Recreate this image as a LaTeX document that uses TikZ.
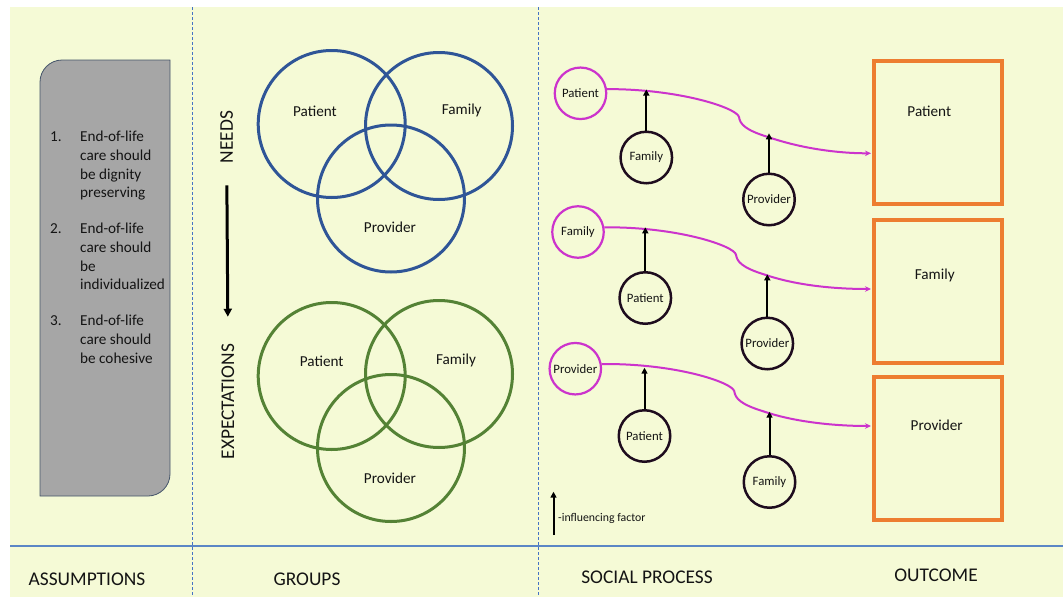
\documentclass[tikz,border=0pt]{standalone}
\usepackage{fontspec}
\setmainfont{Carlito}
\usetikzlibrary{arrows.meta,calc}

\definecolor{bgyellow}{RGB}{245,250,214}
\definecolor{divblue}{RGB}{68,114,196}
\definecolor{ruleblue}{RGB}{91,134,197}
\definecolor{boxgray}{RGB}{166,166,166}
\definecolor{boxedge}{RGB}{68,84,106}
\definecolor{needblue}{RGB}{47,85,151}
\definecolor{expgreen}{RGB}{84,130,53}
\definecolor{procmag}{RGB}{204,51,204}
\definecolor{inkdark}{RGB}{30,12,30}
\definecolor{outorange}{RGB}{237,125,49}
\definecolor{txt}{RGB}{20,20,20}

\begin{document}
\begin{tikzpicture}[x=1pt,y=-1pt,
  every node/.style={text=txt},
  divider/.style={draw=divblue, line width=0.9pt, dash pattern=on 3pt off 2pt},
  column/.style={font=\fontsize{19.4}{22}\selectfont, inner sep=0},
  venn/.style={circle, minimum size=147pt, inner sep=0, line width=3pt},
  vlabel/.style={font=\fontsize{15.2}{17}\selectfont, inner sep=0},
  actor/.style={circle, draw=procmag, line width=2.2pt, minimum size=51.5pt,
    inner sep=0, font=\fontsize{12.8}{15}\selectfont},
  factor/.style={circle, draw=inkdark, line width=2.5pt, minimum size=51.5pt,
    inner sep=0, font=\fontsize{12.8}{15}\selectfont},
  flow/.style={draw=procmag, line width=2pt, -{Stealth[length=6pt,width=5.5pt]}},
  infl/.style={draw=black, line width=2pt, -{Triangle[length=6pt,width=6pt]}},
  outbox/.style={rectangle, draw=outorange, line width=4pt, minimum width=128pt,
    minimum height=143pt, inner sep=0},
  olabel/.style={font=\fontsize{15.2}{18}\selectfont, inner sep=0}
]
\useasboundingbox (0,0) rectangle (1063,597);
\fill[bgyellow] (10,7) rectangle (1063,597);

% column dividers and footer rule
\draw[divider] (192.7,7) -- (192.7,597);
\draw[divider] (538.7,7) -- (538.7,597);
\draw[ruleblue, line width=2pt] (10,546) -- (1063,546);

% ---------- assumptions panel ----------
\filldraw[fill=boxgray, draw=boxedge, line width=0.8pt]
  (40,496) -- (40,82) .. controls (40,69.9) and (49.9,60) .. (62,60)
  -- (170,60) -- (170,474) .. controls (170,486.1) and (160.1,496) .. (148,496) -- cycle;
\node[anchor=base west, inner sep=0, font=\fontsize{15.2}{18.7}\selectfont] (beliefs) at (50,141.7)
 {\begin{tabular}[t]{@{}l@{}l@{}}
  \makebox[30pt][l]{1.} & End-of-life\\
   & care should\\
   & be dignity\\
   & preserving\\[17.3pt]
  \makebox[30pt][l]{2.} & End-of-life\\
   & care should\\
   & be\\
   & individualized\\[17.3pt]
  \makebox[30pt][l]{3.} & End-of-life\\
   & care should\\
   & be cohesive
 \end{tabular}};

% ---------- groups: needs and expectations ----------
\node[column, rotate=90] (needs) at (226.7,137) {NEEDS};
\node[column, rotate=90] (expect) at (228,401.7) {EXPECTATIONS};
\draw[line width=3pt, -{Triangle[length=8pt,width=8pt]}, shorten <=22pt, shorten >=27pt]
  (needs.west) -- (expect.east);

\node[venn, draw=needblue] (nP) at (331.7,124) {};
\node[venn, draw=needblue] (nF) at (439,126) {};
\node[venn, draw=needblue] (nV) at (391,198.5) {};
\node[vlabel] (nPl) at (315,111) {Patient};
\node[vlabel] (nFl) at (461.7,110) {Family};
\node[vlabel] (nVl) at (390,227) {Provider};

\node[venn, draw=expgreen] (eP) at (331.7,376) {};
\node[venn, draw=expgreen] (eF) at (439,374) {};
\node[venn, draw=expgreen] (eV) at (391,448) {};
\node[vlabel] (ePl) at (321.7,361.7) {Patient};
\node[vlabel] (eFl) at (456,360) {Family};
\node[vlabel] (eVl) at (390,478) {Provider};

% ---------- outcomes ----------
\node[outbox] (o1) at (937.5,132.5) {};
\node[outbox] (o2) at (937.5,291) {};
\node[outbox] (o3) at (937.5,448.5) {};
\node[olabel] (o1l) at (929.3,111) {Patient};
\node[olabel] (o2l) at (934.7,275.3) {Family};
\node[olabel] (o3l) at (936.7,425.7) {Provider};

% ---------- social process ----------
% row 1: patient
\node[actor] (m1) at (580.5,93.3) {Patient};
\node[factor] (f1a) at (646.3,157.5) {Family};
\node[factor] (f1b) at (769,199.5) {Provider};
\coordinate (t1) at (871,153.3);
\coordinate (k1a) at (646.3,89.5);
\coordinate (k1b) at (769,133.3);
\draw[flow] (m1.9) .. controls (680,89) and (737,108) .. (739,117)
  .. controls (740,124) and (745,130) .. (768,137)
  .. controls (800,148) and (836,153.3) .. (t1);
\draw[infl] (f1a) -- (k1a);
\draw[infl] (f1b) -- (k1b);

% row 2: family
\node[actor] (m2) at (578,232) {Family};
\node[factor] (f2a) at (645.3,298) {Patient};
\node[factor] (f2b) at (767.3,343.5) {Provider};
\coordinate (t2) at (871,289);
\coordinate (k2a) at (645.3,227.3);
\coordinate (k2b) at (767.3,274.3);
\draw[flow] (m2.10) .. controls (677,226.7) and (734,245.7) .. (736,254.7)
  .. controls (737,261.7) and (742,267.7) .. (765,274.7)
  .. controls (797,285.7) and (836,289) .. (t2);
\draw[infl] (f2a) -- (k2a);
\draw[infl] (f2b) -- (k2b);

% row 3: provider
\node[actor] (m3) at (575.3,368.7) {Provider};
\node[factor] (f3a) at (644.5,436) {Patient};
\node[factor] (f3b) at (769.5,482) {Family};
\coordinate (t3) at (871,426);
\coordinate (k3a) at (644.5,367.7);
\coordinate (k3b) at (769.5,411.7);
\draw[flow] (m3.10) .. controls (675.3,363.3) and (732.3,382.3) .. (734.3,391.3)
  .. controls (735.3,398.3) and (740.3,404.3) .. (763.3,411.3)
  .. controls (795.3,422.3) and (836,426) .. (t3);
\draw[infl] (f3a) -- (k3a);
\draw[infl] (f3b) -- (k3b);

% legend
\coordinate (keybase) at (553.5,535);
\coordinate (keytip) at (553.5,491.7);
\draw[infl] (keybase) -- (keytip);
\node[anchor=west, inner sep=0, font=\fontsize{11.8}{14}\selectfont] (keytext) at (558,518.3) {-influencing factor};

% ---------- column titles ----------
\node[column] (tA) at (87,579) {ASSUMPTIONS};
\node[column] (tG) at (307,579) {GROUPS};
\node[column] (tS) at (647,577) {SOCIAL PROCESS};
\node[column] (tO) at (936,575) {OUTCOME};
\end{tikzpicture}
\end{document}
